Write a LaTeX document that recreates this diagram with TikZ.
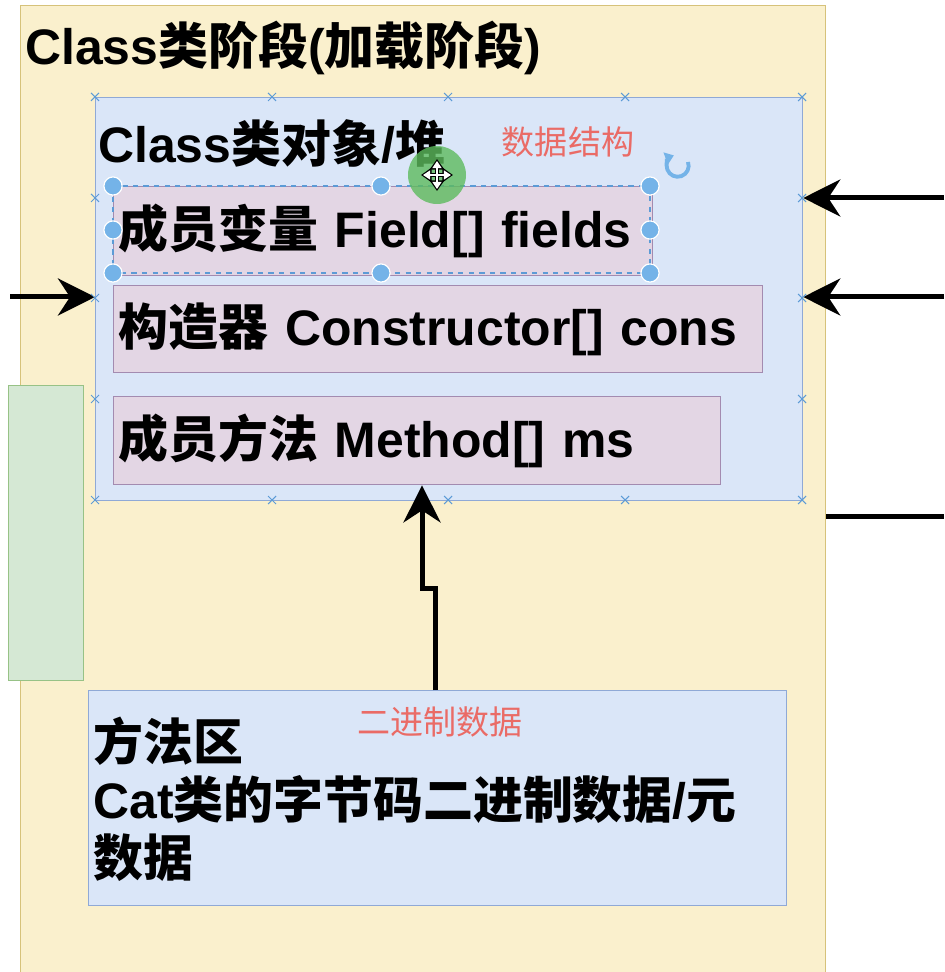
\documentclass[tikz,border=0pt]{standalone}
\usepackage{fontspec}
\setmainfont{Liberation Sans}
\newfontfamily\cjk{Noto Sans CJK SC}
\usepackage{xcolor}
\usepackage{tikz}
\usetikzlibrary{arrows.meta,positioning}

\definecolor{stagefill}{HTML}{FAF0CD}
\definecolor{stageline}{HTML}{D6C27A}
\definecolor{heapfill}{HTML}{DAE6F8}
\definecolor{heapline}{HTML}{8FA9D6}
\definecolor{memberfill}{HTML}{E3D6E4}
\definecolor{memberline}{HTML}{A38BB0}
\definecolor{greenfill}{HTML}{D5E8D4}
\definecolor{greenline}{HTML}{97C286}
\definecolor{notered}{HTML}{EA6B66}
\definecolor{handle}{HTML}{74B3E8}
\definecolor{selline}{HTML}{5C9BD6}
\definecolor{movegreen}{HTML}{5DBB5D}

\newcommand\zh[1]{{\cjk #1}}
\newcommand\bigtext{\fontsize{28.4pt}{33pt}\selectfont\bfseries}
\newcommand\notetext{\fontsize{18.8pt}{22pt}\selectfont}

\begin{document}
\begin{tikzpicture}[
  x=0.02cm, y=-0.02cm,
  stagebox/.style={draw=stageline, fill=stagefill, line width=0.8pt, anchor=north west, inner sep=0pt},
  heapbox/.style={draw=heapline, fill=heapfill, line width=0.8pt, anchor=north west, inner sep=0pt},
  memberbox/.style={draw=memberline, fill=memberfill, line width=0.8pt, anchor=north west,
                    inner xsep=0.1cm, inner ysep=0pt, align=left, font=\bigtext},
  greenbox/.style={draw=greenline, fill=greenfill, line width=0.8pt, anchor=north west, inner sep=0pt},
  title/.style={anchor=west, inner sep=0pt, font=\bigtext},
  note/.style={inner sep=0pt, text=notered, font=\notetext},
  arr/.style={-{Stealth[length=0.74cm, width=0.74cm, inset=0.24cm]}, line width=0.1cm},
  xmark/.style={draw=selline, line width=0.6pt},
  grip/.style={fill=handle, draw=white, line width=0.6pt}
]
\clip (0,0) rectangle (944,972);
\fill[white] (0,0) rectangle (944,972);

% Boxes
\node[stagebox, minimum width=16.1cm, minimum height=20cm] (stage) at (20,5) {};
\node[greenbox, minimum width=1.5cm, minimum height=5.9cm] (side) at (8,385) {};
\node[heapbox, minimum width=14.14cm, minimum height=8.06cm] (heap) at (95,97) {};
\node[memberbox, minimum width=10.78cm, minimum height=1.78cm, text width=10.58cm] (fields) at (113,186)
  {\zh{成员变量} Field[] fields};
\node[memberbox, minimum width=12.98cm, minimum height=1.74cm, text width=12.78cm] (cons) at (113,285)
  {\zh{构造器} Constructor[] cons};
\node[memberbox, minimum width=12.14cm, minimum height=1.76cm, text width=11.94cm] (methods) at (113,396)
  {\zh{成员方法} Method[] ms};
\node[heapbox, minimum width=13.96cm, minimum height=4.3cm] (marea) at (88,690) {};

% Titles
\node[title] (stagelbl) at (25,48) {Class\zh{类阶段}(\zh{加载阶段})};
\node[title] (heaplbl) at (98,143) {Class\zh{类对象}/\zh{堆}};
\node[title, align=left] (marealbl) at (93,799)
  {\zh{方法区}\\Cat\zh{类的字节码二进制数据}/\zh{元}\\\zh{数据}};

% Red notes
\node[note] (datanote) at (568,142) {\zh{数据结构}};
\node[note] (binnote) at (440,722) {\zh{二进制数据}};

% Arrows
\coordinate (inL) at (10,297);
\coordinate (inR1) at (944,198);
\coordinate (inR2) at (944,297);
\coordinate (outR) at (944,516);
\coordinate (jogA) at (435,588);
\coordinate (jogB) at (422,588);
\draw[arr] (inL) -- (inL -| heap.west);
\draw[arr] (inR1) -- (inR1 -| heap.east);
\draw[arr] (inR2) -- (inR2 -| heap.east);
\draw[line width=0.1cm] (outR -| stage.east) -- (outR);
\draw[arr] (marea.north -| jogA) -- (jogA) -- (jogB) -- (jogB |- methods.south);

% Editor marks
\foreach \px in {95,272,448,625,802}{
  \foreach \py in {97,500}{
    \draw[xmark] (\px-4,\py-4) -- (\px+4,\py+4) (\px-4,\py+4) -- (\px+4,\py-4);
  }
}
\foreach \py in {198,298,399}{
  \foreach \px in {95,802}{
    \draw[xmark] (\px-4,\py-4) -- (\px+4,\py+4) (\px-4,\py+4) -- (\px+4,\py-4);
  }
}
\draw[selline, dashed, line width=0.6pt] (113,186) rectangle (650,273);
\foreach \gx/\gy in {113/186,381/186,650/186,113/230,650/230,113/273,381/273,650/273}{
  \fill[grip] (\gx,\gy) circle (9);
  \draw[grip] (\gx,\gy) circle (9);
}
\fill[movegreen, opacity=0.8] (437,175) circle (29);
\draw[black, line width=2.6pt, {Triangle[length=6pt,width=8pt]}-{Triangle[length=6pt,width=8pt]}] (437,159) -- (437,191);
\draw[black, line width=2.6pt, {Triangle[length=6pt,width=8pt]}-{Triangle[length=6pt,width=8pt]}] (421,175) -- (453,175);
\draw[white, line width=1.2pt, {Triangle[length=4pt,width=5pt]}-{Triangle[length=4pt,width=5pt]}] (437,161) -- (437,189);
\draw[white, line width=1.2pt, {Triangle[length=4pt,width=5pt]}-{Triangle[length=4pt,width=5pt]}] (423,175) -- (451,175);
\draw[handle, line width=2.2pt, -{Triangle[length=5pt,width=7pt]}] (688,162) arc[start angle=-20, end angle=250, radius=11];

\end{tikzpicture}
\end{document}
